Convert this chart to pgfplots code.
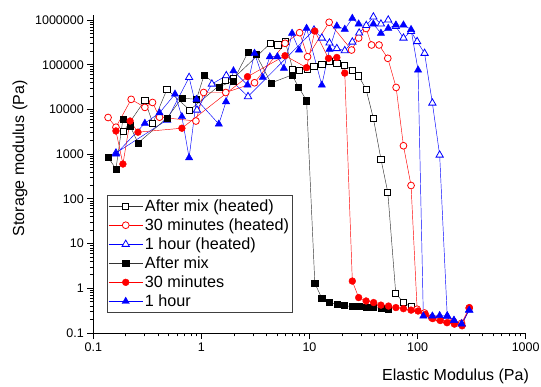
\documentclass[border=0pt]{standalone}
\usepackage{fontspec}
\setmainfont{Liberation Sans}
\usepackage{pgfplots}
\pgfplotsset{compat=1.18}
\definecolor{cblk}{RGB}{0,0,0}
\definecolor{cred}{RGB}{255,0,0}
\definecolor{cblu}{RGB}{0,0,255}

\pgfplotstableread{
x y
0.19 3200
0.30 16000
0.355 4900
0.48 28000
0.78 9700
1.68 45000
1.98 49600
4.35 301000
5.1 276000
5.94 339000
7.0 80000
8.1 76000
9.5 80000
11.0 90000
13.0 102000
15.3 117000
17.9 107000
21.2 95000
24.9 76000
28.5 56000
33.4 28000
39 6300
45.8 777
53 140
62.8 0.77
74 0.48
87 0.385
}\amheated

\pgfplotstableread{
x y
0.137 6600
0.162 4000
0.224 16800
0.30 11100
0.353 14300
0.41 6700
0.89 5500
1.05 23900
1.68 23900
3.1 39500
5.94 301000
8.1 520000
9.6 151000
15.2 889000
24.5 213000
28.5 395000
33.4 646000
37.5 276000
44 276000
53 139000
63.3 31000
74 1540
87 199
99 0.34
116 0.28
135 0.22
158 0.21
183 0.19
215 0.18
255 0.165
300 0.36
}\thheated

\pgfplotstableread{
x y
0.162 1060
0.48 5800
0.77 52000
0.91 9700
1.25 37000
1.7 57000
2.7 19400
11.0 597000
13.0 395000
15.3 306000
17.9 230000
21.2 206000
24.9 322000
28.8 512000
33.5 754000
39 1170000
45.8 814000
53.5 1000000
63 716000
74 395000
87 553000
99 330000
116 180000
137 13900
160 955
188 0.24
217 0.19
256 0.16
300 0.325
}\ohheated

\pgfplotstableread{
x y
0.137 861
0.162 464
0.188 6100
0.219 4300
0.259 1770
0.48 6400
0.66 18000
0.90 16800
1.06 59000
1.45 32000
1.97 43000
2.7 190000
3.2 170000
4.4 39000
6.9 59000
7.9 32000
9.4 15700
11.2 1.3
13 0.6
15.1 0.48
17.9 0.44
20.9 0.41
24.7 0.39
28.7 0.39
33.2 0.38
38.5 0.37
45.8 0.36
53.1 0.35
}\am

\pgfplotstableread{
x y
0.162 3300
0.188 601
0.219 5500
0.259 3100
0.66 3800
2.67 54000
5.94 159000
9.4 86000
11.2 567000
15.0 139000
17.9 145000
21.2 65000
24.9 1.45
28.5 0.62
33.4 0.52
39.2 0.48
45.8 0.42
53.8 0.40
63 0.37
74 0.35
87 0.325
101 0.31
118 0.26
138 0.21
162 0.19
187 0.17
219 0.158
258 0.145
301 0.37
}\th

\pgfplotstableread{
x y
0.162 1000
0.30 4900
0.41 8400
0.57 22000
0.66 6900
0.77 830
0.90 16800
1.45 4700
1.69 14900
1.98 73000
2.67 35000
3.1 180000
3.7 52000
4.3 151000
5.05 151000
5.8 83000
6.9 504000
8.0 213000
9.4 652000
13.0 35000
15.3 221000
17.9 734000
21.2 619000
24.9 1090000
28.5 814000
39 814000
45.8 504000
53.5 652000
63 773000
74 773000
87 613000
101 76000
113 0.24
137 0.24
160 0.245
188 0.24
217 0.19
256 0.158
300 0.325
}\oh

\begin{document}
\begin{tikzpicture}
\begin{axis}[
  at={(0,0)}, anchor=south west,
  scale only axis, width=432.4pt, height=318.1pt,
  xmode=log, ymode=log,
  xmin=0.1, xmax=1000, ymin=0.1, ymax=1.3e6,
  axis x line*=bottom, axis y line*=left,
  axis line style={line width=1pt},
  tick align=outside,
  major tick length=6pt, minor tick length=3.5pt,
  every tick/.style={black, line width=0.8pt},
  xtick={0.1,1,10,100,1000}, xticklabels={0.1,1,10,100,1000},
  ytick={0.1,1,10,100,1000,10000,100000,1000000},
  yticklabels={0.1,1,10,100,1000,10000,100000,1000000},
  tick label style={font=\fontsize{12.5}{14}\selectfont},
  xlabel={Elastic Modulus (Pa)}, ylabel={Storage modulus (Pa)},
  label style={font=\fontsize{16}{19}\selectfont},
  xlabel style={at={(axis description cs:0.8377,-0.135)}, anchor=center},
  ylabel style={at={(axis description cs:-0.1695,0.549)}, anchor=center},
  legend style={at={(0.031,0.433)}, anchor=north west,
    font=\fontsize{16.2}{18}\selectfont, draw=black!75, line width=0.6pt,
    inner xsep=1.5pt, inner ysep=2pt, row sep=1.8pt},
  legend cell align=left,
  legend image code/.code={\draw[mark repeat=2,mark phase=2,#1] plot coordinates {(0pt,0pt) (17pt,0pt) (34pt,0pt)};},
  every axis plot/.append style={line width=0.45pt},
]
\addplot[cblk!80, mark=square*, mark size=3.1pt, mark options={solid, fill=white, draw=black, line width=0.8pt}] table {\amheated};
\addlegendentry{After mix (heated)}
\addplot[cred, mark=*, mark size=3.4pt, mark options={solid, fill=white, draw=cred, line width=0.8pt}] table {\thheated};
\addlegendentry{30 minutes (heated)}
\addplot[cblu, mark=triangle*, mark size=4.2pt, mark options={solid, fill=white, draw=cblu, line width=0.8pt}] table {\ohheated};
\addlegendentry{1 hour (heated)}
\addplot[cblk!80, mark=square*, mark size=3.1pt, mark options={solid, fill=black, draw=black}] table {\am};
\addlegendentry{After mix}
\addplot[cred, mark=*, mark size=3.4pt, mark options={solid, fill=cred, draw=cred}] table {\th};
\addlegendentry{30 minutes}
\addplot[cblu, mark=triangle*, mark size=4.2pt, mark options={solid, fill=cblu, draw=cblu}] table {\oh};
\addlegendentry{1 hour}
\end{axis}
\pgfresetboundingbox
\path[use as bounding box] (-93.3pt,-53pt) rectangle (447.7pt,333pt);
\end{tikzpicture}
\end{document}
